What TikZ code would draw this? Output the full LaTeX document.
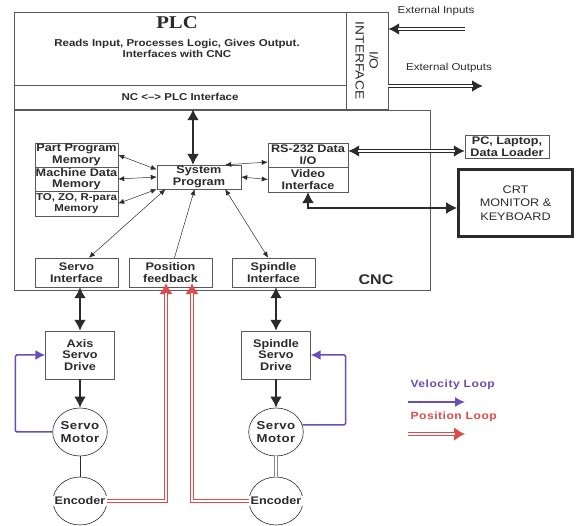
\documentclass[tikz,border=0pt]{standalone}
\usepackage{fontspec}
\setmainfont{Liberation Sans}[FakeStretch=1.15]
\newfontfamily\plcfont{Liberation Serif}[FakeStretch=1.15]
\usetikzlibrary{arrows.meta}
\usetikzlibrary{shapes.geometric}
\definecolor{linedark}{HTML}{2B2B2B}
\definecolor{boxgray}{HTML}{5A5A5A}
\definecolor{velocolor}{HTML}{6A4DB8}
\definecolor{poscolor}{HTML}{E04A4A}
\definecolor{shaftgray}{HTML}{8A8A8A}
\tikzset{bigtip/.tip={Latex[length=11pt,width=12pt]},
  redtip/.tip={Latex[length=11pt,width=14pt]},
  smalltip/.tip={Latex[length=6pt,width=5pt]}}

\begin{document}
\begin{tikzpicture}[x=1pt,y=-1pt,
  frame/.style={draw=boxgray,inner sep=0pt,text=linedark},
  box/.style={frame,fill=white,align=center,font=\bfseries\fontsize{11}{11.5}\selectfont},
  motor/.style={ellipse,draw=linedark,semithick,minimum width=54pt,minimum height=48pt,inner sep=0pt,align=center,font=\bfseries\fontsize{11.5}{12.5}\selectfont\addfontfeature{LetterSpace=4},text=linedark},
  enclabel/.style={fill=white,inner ysep=1pt,inner xsep=3pt,font=\bfseries\fontsize{11}{12}\selectfont,text=linedark},
  plain/.style={font=\fontsize{10}{12}\selectfont,text=linedark},
  bigarrow/.style={line width=2.4pt,draw=linedark,bigtip-bigtip},
  thinarrow/.style={line width=0.5pt,draw=linedark,smalltip-smalltip},
  twinend/.style={line width=3.6pt,-bigtip,postaction={draw=white,line width=1.6pt,arrows=-,shorten >=10pt}},
  twinboth/.style={line width=3.6pt,bigtip-bigtip,postaction={draw=white,line width=1.6pt,arrows=-,shorten >=10pt,shorten <=10pt}},
  veloloop/.style={draw=velocolor,line width=1.5pt,rounded corners=1.5pt,-{Latex[length=10pt,width=10pt]}},
  posloop/.style={draw=poscolor,twinend,-redtip}]
  \useasboundingbox (0,0) rectangle (576,526);
  % PLC part
  \node[frame,minimum width=332pt,minimum height=73pt] (plc) at (180,48.5) {};
  \node[frame,minimum width=332pt,minimum height=24pt,font=\bfseries\fontsize{10}{12}\selectfont] (ncplc) at (180,97) {NC <--> PLC Interface};
  \node[frame,rotate=-90,minimum width=97pt,minimum height=42pt,align=center,font=\fontsize{12}{14}\selectfont] (io) at (367,60.5) {I/O\\INTERFACE};
  \node[font=\plcfont\bfseries\fontsize{18}{20}\selectfont,text=linedark] (plctitle) at (177,23) {PLC};
  \node[align=center,font=\bfseries\fontsize{10}{11}\selectfont,text=linedark] (plcdesc) at (177,48) {Reads Input, Processes Logic, Gives Output.\\Interfaces with CNC};
  \node[plain] (extin) at (436,11) {External Inputs};
  \node[plain] (extout) at (449,68) {External Outputs};
  \coordinate (insrc) at (465,29);
  \coordinate (outdst) at (483,86);
  \draw[draw=linedark,twinend] (insrc) -- (insrc -| io.north);
  \draw[draw=linedark,twinend] (outdst -| io.north) -- (outdst);
  % CNC part
  \node[frame,minimum width=416pt,minimum height=180pt] (cnc) at (222,200) {};
  \node[font=\bfseries\fontsize{14}{16}\selectfont,text=linedark] (cnclabel) at (376,280) {CNC};
  \node[box,minimum width=83pt,minimum height=24pt] (mem1) at (76.5,155) {Part Program\\Memory};
  \node[box,minimum width=83pt,minimum height=24pt] (mem2) at (76.5,179) {Machine Data\\Memory};
  \node[box,minimum width=83pt,minimum height=25pt,font=\bfseries\fontsize{10}{11.5}\selectfont] (mem3) at (76.5,203.5) {TO, ZO, R-para\\Memory};
  \node[box,minimum width=84pt,minimum height=24pt] (sys) at (199,177) {System\\Program};
  \node[box,minimum width=80pt,minimum height=24pt] (rs) at (308,155) {RS-232 Data\\I/O};
  \node[box,minimum width=80pt,minimum height=25pt] (vid) at (308,179.5) {Video\\Interface};
  \node[box,minimum width=84pt,minimum height=23pt] (pc) at (507,146.5) {PC, Laptop,\\Data Loader};
  \node[draw=linedark,line width=3pt,minimum width=114pt,minimum height=67pt,align=center,font=\fontsize{11}{13.5}\selectfont,text=linedark] (crt) at (515.5,203) {CRT\\MONITOR \&\\KEYBOARD};
  \node[box,minimum width=83pt,minimum height=29pt] (serv) at (76.5,272.5) {Servo\\Interface};
  \node[box,minimum width=83pt,minimum height=29pt] (posfb) at (170.5,272.5) {Position\\feedback};
  \node[box,minimum width=83pt,minimum height=29pt] (spint) at (273.5,272.5) {Spindle\\Interface};
  \coordinate (sysin) at (193,165);
  \draw[bigarrow] (ncplc.south -| sysin) -- (sysin);
  \draw[thinarrow] (mem1.east) -- (sys.170);
  \draw[thinarrow] (mem2.east) -- (sys.west);
  \draw[thinarrow] (mem3.east) -- (sys.south west);
  \draw[thinarrow] (serv.50) -- (sys.200);
  \draw[thinarrow,-smalltip] (posfb.75) -- (sys.250);
  \draw[thinarrow] (spint.110) -- (sys.335);
  \draw[thinarrow] (rs.190) -- (sys.25);
  \draw[thinarrow] (vid.west) -- (sys.east);
  \draw[draw=linedark,twinboth] ([yshift=4pt]rs.east) -- ([yshift=4pt]rs.east -| pc.west);
  \draw[draw=linedark,line width=1.2pt,bigtip-bigtip] (vid.south) |- ([yshift=-5pt]crt.west);
  % drives and motors
  \node[box,minimum width=69pt,minimum height=48pt] (drv1) at (80,355) {Axis\\Servo\\Drive};
  \node[box,minimum width=69pt,minimum height=48pt] (drv2) at (276,355) {Spindle\\Servo\\Drive};
  \node[motor] (mot1) at (80,432) {Servo\\Motor};
  \node[motor] (mot2) at (276,432) {Servo\\Motor};
  \node[motor,label={[enclabel]center:Encoder}] (enc1) at (80,501) {};
  \node[motor,label={[enclabel]center:Encoder}] (enc2) at (276,501) {};
  \draw[bigarrow] (serv.south -| drv1.north) -- (drv1.north);
  \draw[bigarrow] (spint.south -| drv2.north) -- (drv2.north);
  \draw[bigarrow,-bigtip] (drv1) -- (mot1);
  \draw[bigarrow,-bigtip] (drv2) -- (mot2);
  \draw[draw=linedark,semithick] (mot1) -- (enc1);
  \draw[draw=shaftgray,line width=3.2pt,postaction={draw=white,line width=1.4pt}] (mot2) -- (enc2);
  \draw[veloloop] (mot1.west) -| ([xshift=-30pt]drv1.west) -- (drv1.west);
  \draw[veloloop] (mot2.15) -| ([xshift=35pt]drv2.east) -- (drv2.east);
  \draw[posloop] (enc1.east) -| ([xshift=-4.5pt,yshift=4pt]posfb.south);
  \draw[posloop] (enc2.west) -| ([xshift=21.5pt,yshift=4pt]posfb.south);
  % legend
  \node[anchor=west,font=\bfseries\fontsize{10.5}{12}\selectfont\addfontfeature{LetterSpace=5},text=velocolor] (velotext) at (407,385) {Velocity Loop};
  \node[anchor=west,font=\bfseries\fontsize{10.5}{12}\selectfont\addfontfeature{LetterSpace=5},text=poscolor] (postext) at (407,417) {Position Loop};
  \coordinate (velo1) at (408,402);
  \coordinate (velo2) at (465,402);
  \coordinate (pos1) at (408,434);
  \coordinate (pos2) at (465,434);
  \draw[veloloop] (velo1) -- (velo2);
  \draw[posloop] (pos1) -- (pos2);
\end{tikzpicture}
\end{document}
